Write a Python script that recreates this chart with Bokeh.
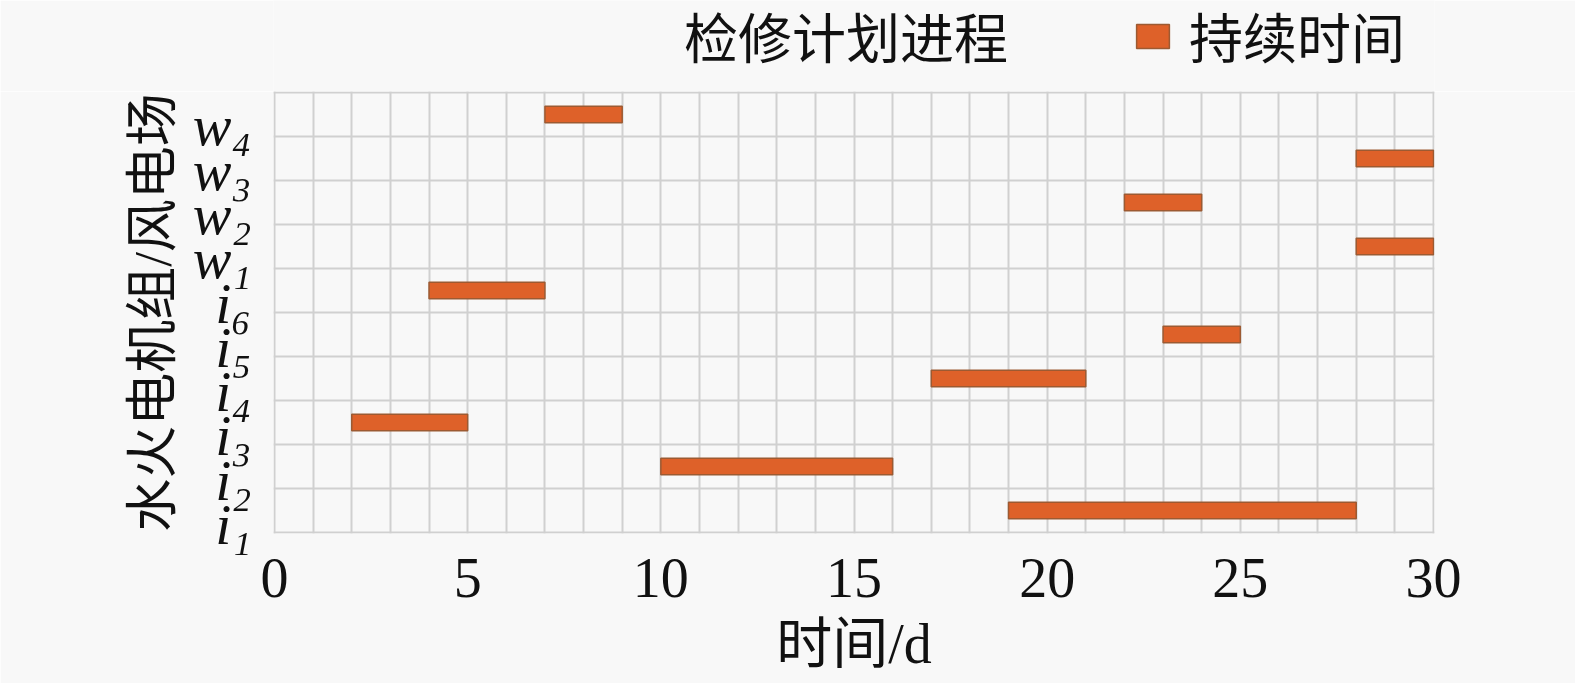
from bokeh.plotting import figure
from bokeh.layouts import column
from bokeh.models import (Legend, LegendItem, FixedTicker, ColumnDataSource,
                          LinearAxis, Range1d)
from bokeh.embed import file_html
from bokeh.resources import INLINE

# ---- data ----
unit_letters = ["i", "i", "i", "i", "i", "i", "w", "w", "w", "w"]
unit_numbers = ["₁", "₂", "₃", "₄", "₅", "₆", "₁", "₂", "₃", "₄"]
start_day = [19, 10, 2, 17, 23, 4, 28, 22, 28, 7]
end_day = [28, 16, 5, 21, 25, 7, 30, 24, 30, 9]
x_ticks = [0, 5, 10, 15, 20, 25, 30]
title_text = "检修计划进程"
legend_text = "持续时间"
x_label = "时间/d"
y_label = "水火电机组/风电场"

# ---- layout ----
W, H = 1575, 683
HEADER_H = 91
X0, X1 = 0, 30
NROWS = len(unit_letters)
PX_X = 1159 / (X1 - X0)     # px per day
PX_Y = 440 / NROWS          # px per row
PAD = 1                      # px padding so edge grid lines show
FRAME_W = 1159 + 2 * PAD
FRAME_H = 440 + 2 * PAD
BORDER_L = 274 - PAD
BORDER_R = W - 1433 - PAD
half_bar = 0.19

bg = "#f8f8f8"
bar_fill = "#de6129"
bar_line = "#9c5a32"
text_col = "#111111"

rows = list(range(NROWS))
src = ColumnDataSource(dict(
    left=start_day, right=end_day,
    bottom=[r + 0.5 - half_bar for r in rows],
    top=[r + 0.5 + half_bar for r in rows],
))

# label axis range: row labels spread over the whole frame height
lab_step = 44.3                       # px between labels
lab_first = 9                         # px of first label above frame bottom
lab_start = -lab_first / lab_step
lab_end = lab_start + FRAME_H / lab_step

# ---------- header with heading + legend ----------
# the header's ranges do not reach the bars (days >= 2), so only the legend shows
hdr = figure(frame_width=FRAME_W, height=HEADER_H, x_range=(0, 1), y_range=(0, 1),
             x_axis_location=None, y_axis_location=None,
             output_backend="svg", toolbar_location=None,
             min_border_left=BORDER_L, min_border_right=BORDER_R,
             min_border_top=0, min_border_bottom=0)
hdr.grid.visible = False
hdr.outline_line_color = None
hdr.background_fill_color = bg
hdr.border_fill_color = bg
r_head = hdr.quad(left="left", right="right", bottom="bottom", top="top", source=src,
                  fill_alpha=0, line_alpha=0)
r_sw = hdr.quad(left="left", right="right", bottom="bottom", top="top", source=src,
                fill_color=bar_fill, line_color=bar_line, line_width=1.5)
legend = Legend(items=[LegendItem(label=title_text, renderers=[r_head]),
                       LegendItem(label=legend_text, renderers=[r_sw])],
                location=(628 - 274, 16), orientation="horizontal",
                background_fill_alpha=0, border_line_color=None,
                label_text_font="Noto Sans CJK SC", label_text_font_size="54px",
                label_text_color=text_col,
                glyph_width=41, glyph_height=30, label_standoff=16,
                padding=0, margin=0, spacing=124)
hdr.add_layout(legend, "center")

# ---------- main chart ----------
p = figure(frame_width=FRAME_W, frame_height=FRAME_H,
           x_range=(X0 - PAD / PX_X, X1 + PAD / PX_X),
           y_range=(0 - PAD / PX_Y, NROWS + PAD / PX_Y),
           y_axis_location=None,
           output_backend="svg", toolbar_location=None,
           min_border_left=BORDER_L, min_border_right=BORDER_R,
           min_border_top=0, min_border_bottom=H - HEADER_H - FRAME_H)
p.extra_y_ranges = {"lab": Range1d(start=lab_start, end=lab_end)}
p.background_fill_color = bg
p.border_fill_color = bg
p.outline_line_color = None

p.quad(left="left", right="right", bottom="bottom", top="top", source=src,
       fill_color=bar_fill, line_color=bar_line, line_width=1.5)

# grids
p.xgrid.ticker = FixedTicker(ticks=list(range(X0, X1 + 1)))
p.ygrid.ticker = FixedTicker(ticks=list(range(NROWS + 1)))
for g in (p.xgrid, p.ygrid):
    g.grid_line_color = "#d0d0d0"
    g.grid_line_width = 2

serif_cjk = "Liberation Serif, Noto Sans CJK SC"

# x axis
xa = p.xaxis[0]
xa.ticker = FixedTicker(ticks=x_ticks)
xa.axis_line_color = None
xa.major_tick_line_color = None
xa.minor_tick_line_color = None
xa.major_tick_out = 0
xa.major_tick_in = 0
xa.minor_tick_out = 0
xa.major_label_text_font = "Liberation Serif"
xa.major_label_text_font_size = "56px"
xa.major_label_text_color = text_col
xa.major_label_standoff = 25
xa.axis_label = x_label
xa.axis_label_text_font = serif_cjk
xa.axis_label_text_font_size = "56px"
xa.axis_label_text_font_style = "normal"
xa.axis_label_text_color = text_col
xa.axis_label_standoff = 13

# y axis with unit labels
ya = LinearAxis(y_range_name="lab",
                ticker=FixedTicker(ticks=rows),
                major_label_overrides={k: unit_letters[k] + unit_numbers[k] for k in rows})
ya.axis_line_color = None
ya.major_tick_line_color = None
ya.minor_tick_line_color = None
ya.major_tick_out = 0
ya.major_tick_in = 0
ya.minor_tick_out = 0
ya.major_label_text_font = "Liberation Serif, DejaVu Serif"
ya.major_label_text_font_style = "italic"
ya.major_label_text_font_size = "58px"
ya.major_label_text_color = text_col
ya.major_label_standoff = 22
ya.axis_label = y_label
ya.axis_label_text_font = serif_cjk
ya.axis_label_text_font_size = "53px"
ya.axis_label_text_font_style = "normal"
ya.axis_label_text_color = text_col
ya.axis_label_standoff = 8
p.add_layout(ya, "left")

layout = column(hdr, p, spacing=0)
open("out.html", "w").write(file_html(layout, INLINE))
